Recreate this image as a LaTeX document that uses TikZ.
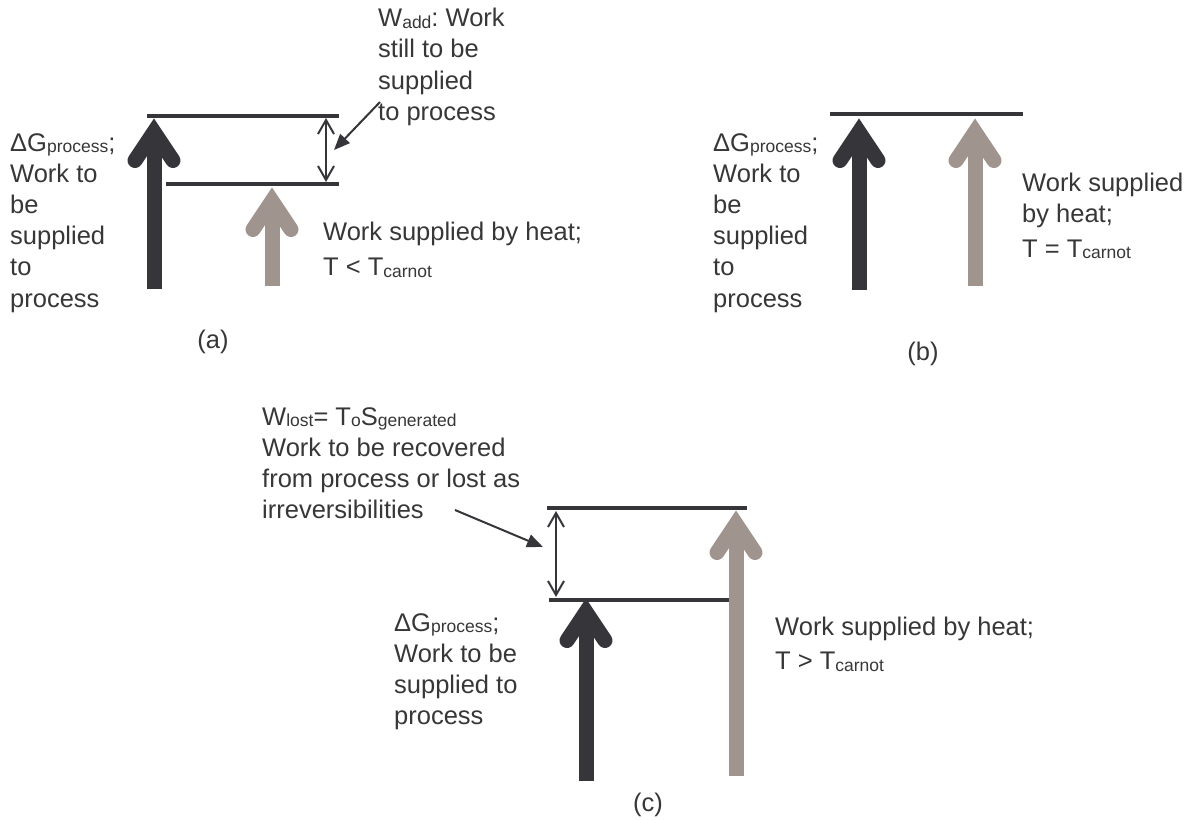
\documentclass[tikz,border=0pt]{standalone}
\usepackage{fontspec}
\setmainfont{Liberation Sans}
\usetikzlibrary{arrows.meta,calc}
\definecolor{darkarr}{RGB}{54,53,57}
\definecolor{grayarr}{RGB}{160,148,143}
\definecolor{txtc}{RGB}{55,55,55}
\newcommand{\lowsub}[1]{\raisebox{-1.5pt}{\fontsize{17.5}{17.5}\selectfont #1}}
\newcommand{\bigarrow}[3]{%
  \draw[#1, line width=15pt] (#2) -- ($(#3)+(0,17)$);
  \draw[#1, line width=15pt, line cap=round, line join=miter]
    ($(#3)+(-19,42.5)$) -- ($(#3)+(0,14)$) -- ($(#3)+(19,42.5)$);
}
\tikzset{
  lvl/.style={draw=darkarr, line width=4.5pt},
  txt/.style={font=\fontsize{25.5}{31.2}\selectfont, text=txtc, align=left,
    inner sep=0pt, anchor=north west, execute at begin node=\rule{0pt}{20pt}},
  lab/.style={font=\fontsize{25.5}{31.2}\selectfont, text=txtc, inner sep=0pt, anchor=base},
  dbl/.style={draw=darkarr, line width=2pt,
    {Straight Barb[length=14pt,width=16pt]}-{Straight Barb[length=14pt,width=16pt]}},
  ptr/.style={draw=darkarr, line width=2pt, -{Triangle[length=16pt,width=13pt]}},
}
\begin{document}
\begin{tikzpicture}[x=1pt,y=-1pt]
\useasboundingbox[fill=white] (0,0) rectangle (1199,819);

% ---------- panel (a) ----------
\coordinate (aTL) at (147,116); \coordinate (aTR) at (339,116);
\coordinate (aLL) at (166,184); \coordinate (aLR) at (339,184);
\coordinate (aDb) at (154,289); \coordinate (aDt) at (154,118);
\coordinate (aGb) at (272,286); \coordinate (aGt) at (272,187);
\coordinate (aWt) at (326,118); \coordinate (aWb) at (326,182);
\coordinate (aPs) at (380,102); \coordinate (aPe) at (334,150);
\draw[lvl] (aTL) -- (aTR);
\draw[lvl] (aLL) -- (aLR);
\bigarrow{darkarr}{aDb}{aDt}
\bigarrow{grayarr}{aGb}{aGt}
\draw[dbl] (aWt) -- (aWb);
\draw[ptr] (aPs) -- (aPe);
\node[txt] (aLeft) at (10,133) {ΔG\lowsub{process};\\Work to\\be\\supplied\\to\\process};
\node[txt] (aAdd) at (378,8) {W\lowsub{add}:~Work\\still to be\\supplied\\to process};
\node[txt] (aRight) at (323,222) {Work supplied by heat;\\[4pt]T < T\lowsub{carnot}};
\node[lab] (aLab) at (213,348) {(a)};

% ---------- panel (b) ----------
\coordinate (bTL) at (830,114); \coordinate (bTR) at (1023,114);
\coordinate (bDb) at (859,290); \coordinate (bDt) at (859,118);
\coordinate (bGb) at (975,286); \coordinate (bGt) at (975,118);
\draw[lvl] (bTL) -- (bTR);
\bigarrow{darkarr}{bDb}{bDt}
\bigarrow{grayarr}{bGb}{bGt}
\node[txt] (bLeft) at (713,133) {ΔG\lowsub{process};\\Work to\\be\\supplied\\to\\process};
\node[txt] (bRight) at (1022,173) {Work supplied\\by heat;\\[3pt]T = T\lowsub{carnot}};
\node[lab] (bLab) at (923,360) {(b)};

% ---------- panel (c) ----------
\coordinate (cTL) at (547,508); \coordinate (cTR) at (747,508);
\coordinate (cLL) at (549,600); \coordinate (cLR) at (733,600);
\coordinate (cDb) at (586,781); \coordinate (cDt) at (586,598);
\coordinate (cGb) at (736,776); \coordinate (cGt) at (736,510);
\coordinate (cWt) at (556,511); \coordinate (cWb) at (556,597);
\coordinate (cPs) at (455,510); \coordinate (cPe) at (543,547);
\draw[lvl] (cTL) -- (cTR);
\draw[lvl] (cLL) -- (cLR);
\bigarrow{darkarr}{cDb}{cDt}
\bigarrow{grayarr}{cGb}{cGt}
\draw[dbl] (cWt) -- (cWb);
\draw[ptr] (cPs) -- (cPe);
\node[txt] (cTop) at (262,407) {W\lowsub{lost}= T\lowsub{o}S\lowsub{generated}\\Work to be recovered\\from process or lost as\\irreversibilities};
\node[txt] (cLeft) at (394,613) {ΔG\lowsub{process};\\Work to be\\supplied to\\process};
\node[txt] (cRight) at (775,617) {Work supplied by heat;\\[3pt]T > T\lowsub{carnot}};
\node[lab] (cLab) at (648,811) {(c)};
\end{tikzpicture}
\end{document}
